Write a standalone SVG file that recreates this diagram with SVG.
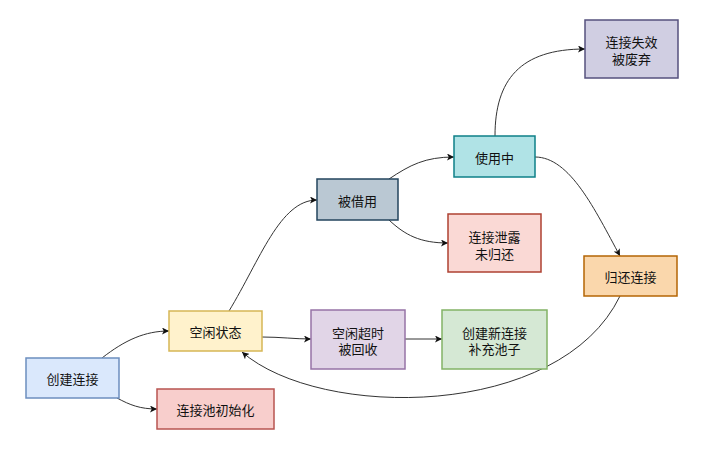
<svg xmlns="http://www.w3.org/2000/svg" width="709" height="456" viewBox="0 0 709 456">
<defs>
<marker id="arr" viewBox="0 0 10 10" refX="10" refY="5" markerWidth="7" markerHeight="7" markerUnits="userSpaceOnUse" orient="auto">
<path d="M0,0 L10,5 L0,10 L2.5,5 Z" fill="#111"/>
</marker>
<style>
text{font-family:"Noto Sans CJK SC","Noto Sans",sans-serif;font-size:13px;fill:#111;text-anchor:middle;dominant-baseline:central}
.e{fill:none;stroke:#333;stroke-width:1;marker-end:url(#arr)}
rect{stroke-width:1.5}
</style>
</defs>
<rect width="709" height="456" fill="#fff"/>
<g id="edges">
<path class="e" d="M102,358 C125,340 145,331 169,331"/>
<path class="e" d="M117,398 C130,405 140,409 157,409"/>
<path class="e" d="M229,311 C260,260 280,200 317,200"/>
<path class="e" d="M389,179 C410,165 425,157 454,157"/>
<path class="e" d="M389,220 C405,235 420,243 448,243"/>
<path class="e" d="M495,136 C495,80 520,49 585,49"/>
<path class="e" d="M535,157 C570,157 595,210 620,256"/>
<path class="e" d="M620,296 C560,420 320,420 242,352"/>
<path class="e" d="M262,337 C280,337 295,339 311,339"/>
<path class="e" d="M405,339 L442,339"/>
</g>
<g id="n1"><rect x="26" y="358" width="93" height="40" fill="#dae8fc" stroke="#6c8ebf"/><text x="72.5" y="378">创建连接</text></g>
<g id="n2"><rect x="157" y="389" width="117" height="40" fill="#f8cecc" stroke="#b85450"/><text x="215.5" y="409">连接池初始化</text></g>
<g id="n3"><rect x="169" y="311" width="93" height="40" fill="#fff2cc" stroke="#d6b656"/><text x="215.5" y="331">空闲状态</text></g>
<g id="n4"><rect x="317" y="179" width="81" height="41" fill="#bac8d3" stroke="#23445d"/><text x="357.5" y="200">被借用</text></g>
<g id="n5"><rect x="448" y="214" width="93" height="58" fill="#fad9d5" stroke="#ae4132"/><text x="494.5" y="236"><tspan x="494.5" y="236">连接泄露</tspan><tspan x="494.5" y="253">未归还</tspan></text></g>
<g id="n6"><rect x="454" y="136" width="81" height="41" fill="#b0e3e6" stroke="#0e8088"/><text x="494.5" y="157">使用中</text></g>
<g id="n7"><rect x="585" y="20" width="93" height="58" fill="#d0cee2" stroke="#56517e"/><text x="631.5" y="41"><tspan x="631.5" y="41">连接失效</tspan><tspan x="631.5" y="58">被废弃</tspan></text></g>
<g id="n8"><rect x="584" y="256" width="93" height="40" fill="#fad7ac" stroke="#b46504"/><text x="630.5" y="276">归还连接</text></g>
<g id="n9"><rect x="311" y="310" width="94" height="59" fill="#e1d5e7" stroke="#9673a6"/><text x="358" y="332"><tspan x="358" y="332">空闲超时</tspan><tspan x="358" y="348">被回收</tspan></text></g>
<g id="n10"><rect x="442" y="310" width="105" height="59" fill="#d5e8d4" stroke="#82b366"/><text x="494.5" y="332"><tspan x="494.5" y="332">创建新连接</tspan><tspan x="494.5" y="348">补充池子</tspan></text></g>
</svg>
